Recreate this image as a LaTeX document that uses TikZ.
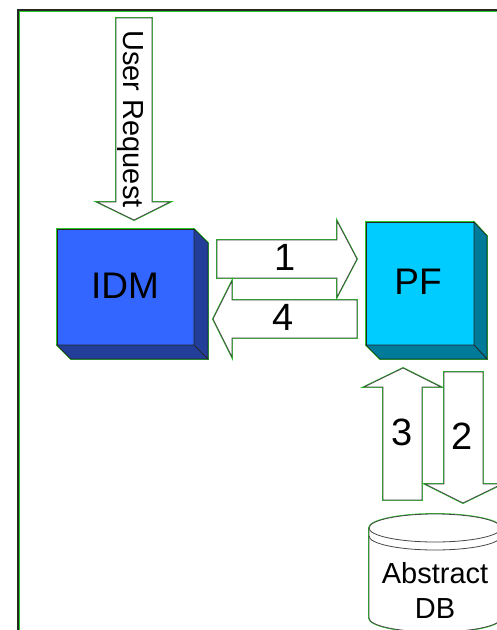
\documentclass[tikz,border=0pt]{standalone}
\usepackage{fontspec}
\setmainfont{Liberation Sans}
\begin{document}
\begin{tikzpicture}[x=1pt,y=-1pt,
  halo/.style={draw=haloGreen,line width=1.8pt,line join=miter},
  edge/.style={draw=edgeGray,line width=0.8pt,line join=miter},
  cubeedge/.style={draw=black!85,line width=0.7pt,line join=miter},
  bigtext/.style={font=\fontsize{37}{44}\selectfont,inner sep=0pt,anchor=base},
  digit/.style={font=\fontsize{38}{45}\selectfont,inner sep=0pt,anchor=base},
  midtext/.style={font=\fontsize{29}{35}\selectfont,inner sep=0pt,anchor=base}]
\definecolor{haloGreen}{RGB}{40,200,40}
\definecolor{edgeGray}{RGB}{70,70,70}
\definecolor{idmFront}{RGB}{51,102,255}
\definecolor{idmSide}{RGB}{34,62,152}
\definecolor{pfFront}{RGB}{0,204,255}
\definecolor{pfSide}{RGB}{0,122,153}

\useasboundingbox (0,0) rectangle (496,630);
\fill[white] (0,0) rectangle (496,630);

% outer frame: dark line with a green inner rule
\draw[black!85,line width=1.4pt] (18,660) -- (18,10) -- (520,10);
\draw[haloGreen,line width=1.2pt] (19.6,660) -- (19.6,11.6) -- (520,11.6);

% ---- IDM cube ----
\path[halo] (57,229) -- (194,229) -- (208,243) -- (208,359) -- (71,359) -- (57,345) -- cycle;
\filldraw[fill=idmFront,cubeedge] (57,229) rectangle (194,345);
\filldraw[fill=idmSide,cubeedge] (194,229) -- (208,243) -- (208,359) -- (194,345) -- cycle;
\filldraw[fill=idmSide,cubeedge] (57,345) -- (194,345) -- (208,359) -- (71,359) -- cycle;
\node[bigtext] (idm) at (125,298) {IDM};

% ---- PF cube ----
\path[halo] (366,222) -- (474,222) -- (487,236) -- (487,359) -- (380,359) -- (366,345) -- cycle;
\filldraw[fill=pfFront,cubeedge] (366,222) rectangle (474,345);
\filldraw[fill=pfSide,cubeedge] (474,222) -- (487,236) -- (487,359) -- (474,345) -- cycle;
\filldraw[fill=pfSide,cubeedge] (366,345) -- (474,345) -- (487,359) -- (380,359) -- cycle;
\node[bigtext] (pf) at (418,294) {PF};

% ---- block arrows ----
% user request (down)
\path[halo] (116,18) -- (152,18) -- (152,202) -- (170,202) -- (134,220) -- (97,202) -- (116,202) -- cycle;
\filldraw[fill=white,edge] (116,18) -- (152,18) -- (152,202) -- (170,202) -- (134,220) -- (97,202) -- (116,202) -- cycle;
\node[midtext,rotate=-90] (req) at (123,119) {User Request};

% 1 (right)
\path[halo] (217,240) -- (337,240) -- (337,221) -- (357,259) -- (337,297) -- (337,278) -- (217,278) -- cycle;
\filldraw[fill=white,edge] (217,240) -- (337,240) -- (337,221) -- (357,259) -- (337,297) -- (337,278) -- (217,278) -- cycle;
\node[digit] (a1) at (285,270) {1};

% 4 (left)
\path[halo] (357,300) -- (357,338) -- (232,338) -- (232,357) -- (213,319) -- (232,281) -- (232,300) -- cycle;
\filldraw[fill=white,edge] (357,300) -- (357,338) -- (232,338) -- (232,357) -- (213,319) -- (232,281) -- (232,300) -- cycle;
\node[digit] (a4) at (283,330) {4};

% 3 (up)
\path[halo] (383,500) -- (383,387) -- (364,387) -- (403,368) -- (441,387) -- (422,387) -- (422,500) -- cycle;
\filldraw[fill=white,edge] (383,500) -- (383,387) -- (364,387) -- (403,368) -- (441,387) -- (422,387) -- (422,500) -- cycle;
\node[digit] (a3) at (402,445) {3};

% 2 (down)
\path[halo] (444,372) -- (483,372) -- (483,484) -- (502,484) -- (463,503) -- (425,484) -- (444,484) -- cycle;
\filldraw[fill=white,edge] (444,372) -- (483,372) -- (483,484) -- (502,484) -- (463,503) -- (425,484) -- (444,484) -- cycle;
\node[digit] (a2) at (462,449) {2};

% ---- Abstract DB cylinder (y axis points down, so angles run mirrored) ----
\path[halo] (369,528) arc[start angle=180,end angle=360,x radius=66,y radius=14]
  -- (501,618) arc[start angle=0,end angle=180,x radius=66,y radius=14] -- cycle;
\filldraw[fill=white,edge] (369,528) arc[start angle=180,end angle=360,x radius=66,y radius=14]
  -- (501,618) arc[start angle=0,end angle=180,x radius=66,y radius=14] -- cycle;
\draw[edge] (369,528) arc[start angle=180,end angle=0,x radius=66,y radius=14];
\draw[edge] (369,536) arc[start angle=180,end angle=0,x radius=66,y radius=14];
\node[midtext,align=center,anchor=base] (db) at (435,618) {Abstract\\DB};
\end{tikzpicture}
\end{document}
